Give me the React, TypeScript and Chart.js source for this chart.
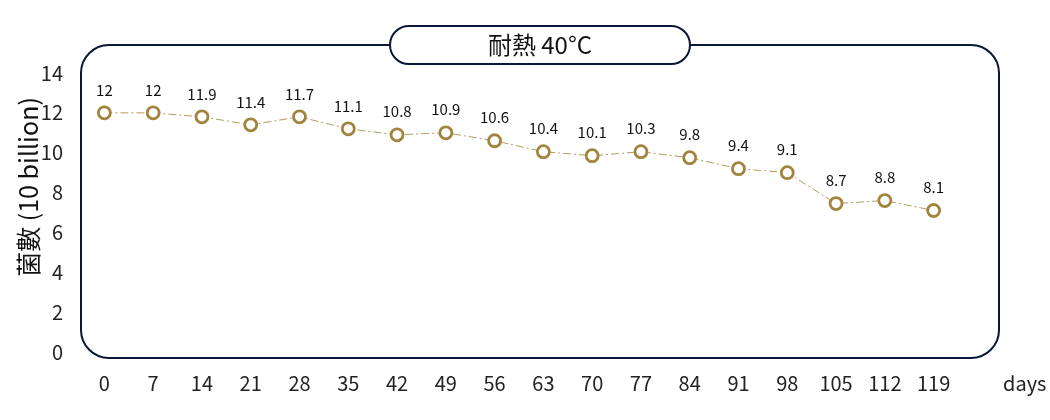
import React, { useEffect, useRef } from "react";
import { Chart, registerables, Plugin } from "chart.js";

Chart.register(...registerables);

const days = ["0", "7", "14", "21", "28", "35", "42", "49", "56", "63", "70", "77", "84", "91", "98", "105", "112", "119"];
const counts = [12, 12, 11.8, 11.4, 11.8, 11.2, 10.9, 11, 10.6, 10.05, 9.85, 10.05, 9.75, 9.2, 9, 7.45, 7.6, 7.1];
const countLabels = ["12", "12", "11.9", "11.4", "11.7", "11.1", "10.8", "10.9", "10.6", "10.4", "10.1", "10.3", "9.8", "9.4", "9.1", "8.7", "8.8", "8.1"];
const yTicks = [0, 2, 4, 6, 8, 10, 12, 14];

const FONT = "'Noto Sans CJK TC', 'Noto Sans', sans-serif";
const NAVY = "#0c1838";
const GOLD = "#a3843f";

const roundRect = (ctx: CanvasRenderingContext2D, x: number, y: number, w: number, h: number, r: number) => {
  ctx.beginPath();
  ctx.moveTo(x + r, y);
  ctx.lineTo(x + w - r, y);
  ctx.arcTo(x + w, y, x + w, y + r, r);
  ctx.lineTo(x + w, y + h - r);
  ctx.arcTo(x + w, y + h, x + w - r, y + h, r);
  ctx.lineTo(x + r, y + h);
  ctx.arcTo(x, y + h, x, y + h - r, r);
  ctx.lineTo(x, y + r);
  ctx.arcTo(x, y, x + r, y, r);
  ctx.closePath();
};

// rounded frame, title pill, axis title, "days" unit and point labels
const framePlugin: Plugin<"line"> = {
  id: "frame",
  beforeDatasetsDraw(chart) {
    const { ctx, chartArea: ca } = chart;
    ctx.save();
    ctx.strokeStyle = NAVY;
    ctx.lineWidth = 2;
    const left = ca.left + 1;
    const top = ca.top - 28;
    roundRect(ctx, left, top, ca.right + 41 - left, ca.bottom + 6 - top, 28);
    ctx.stroke();

    const pw = 300;
    const ph = 38;
    const cx = (left + ca.right + 41) / 2;
    roundRect(ctx, cx - pw / 2, top - ph / 2, pw, ph, ph / 2);
    ctx.fillStyle = "#fff";
    ctx.fill();
    ctx.stroke();
    ctx.fillStyle = "#111";
    ctx.font = `24px ${FONT}`;
    ctx.textAlign = "center";
    ctx.textBaseline = "middle";
    ctx.fillText("耐熱 40°C", cx, top);

    ctx.font = `20px ${FONT}`;
    ctx.fillStyle = "#222";
    ctx.textAlign = "left";
    ctx.fillText("days", ca.right + 45, ca.bottom + 31);

    ctx.translate(28, ca.top + 114);
    ctx.rotate(-Math.PI / 2);
    ctx.font = `25px ${FONT}`;
    ctx.fillStyle = "#111";
    ctx.textAlign = "center";
    ctx.fillText("菌數 (10 billion)", 0, 0);
    ctx.restore();
  },
  afterDatasetsDraw(chart) {
    const { ctx } = chart;
    const meta = chart.getDatasetMeta(0);
    ctx.save();
    ctx.font = `15px ${FONT}`;
    ctx.fillStyle = "#111";
    ctx.textAlign = "center";
    ctx.textBaseline = "middle";
    meta.data.forEach((pt, i) => {
      ctx.fillText(countLabels[i], pt.x, pt.y - 23);
    });
    ctx.restore();
  },
};

const App = () => {
  const canvasRef = useRef<HTMLCanvasElement>(null);

  useEffect(() => {
    if (!canvasRef.current) return;
    const chart = new Chart(canvasRef.current, {
      type: "line",
      data: {
        labels: days,
        datasets: [
          {
            data: counts,
            borderColor: "#b49a5e",
            borderWidth: 1,
            borderDash: [8, 3, 2, 3],
            pointRadius: 6,
            pointBorderWidth: 2.8,
            pointBackgroundColor: "#fff",
            pointBorderColor: GOLD,
          },
        ],
      },
      options: {
        animation: false,
        responsive: true,
        maintainAspectRatio: false,
        layout: { padding: { top: 73, right: 92, left: 0, bottom: 0 } },
        plugins: { legend: { display: false }, tooltip: { enabled: false } },
        scales: {
          x: {
            offset: true,
            grid: { display: false },
            border: { display: false },
            ticks: { color: "#222", font: { family: FONT, size: 20 }, padding: 11, maxRotation: 0 },
            afterFit: (s) => {
              s.height = 68;
            },
          },
          y: {
            min: 0,
            max: 14,
            grid: { display: false },
            border: { display: false },
            afterBuildTicks: (s) => {
              s.ticks = yTicks.map((v) => ({ value: v }));
            },
            ticks: { color: "#222", font: { family: FONT, size: 20 }, padding: 9 },
            afterFit: (s) => {
              s.width = 80;
            },
          },
        },
      },
      plugins: [framePlugin],
    });
    return () => chart.destroy();
  }, []);

  return (
    <div style={{ position: "absolute", left: 0, top: 0, width: "1050px", height: "420px" }}>
      <canvas ref={canvasRef} />
    </div>
  );
};

export default App;
